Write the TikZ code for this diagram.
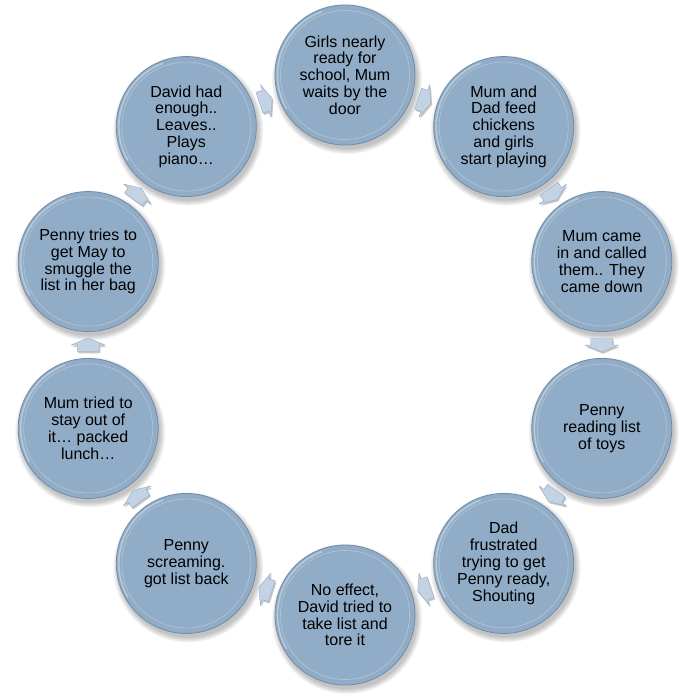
\documentclass[tikz,border=0pt]{standalone}
\usepackage{fontspec}
\setmainfont{Liberation Sans}
\usetikzlibrary{calc}
\definecolor{cfill}{RGB}{145,172,198}
\definecolor{cedge}{RGB}{112,140,168}
\definecolor{cinner}{RGB}{178,198,218}
\definecolor{afill}{RGB}{196,211,227}
\definecolor{aedge}{RGB}{150,170,192}
\begin{document}
\begin{tikzpicture}[x=1pt,y=-1pt]
\useasboundingbox (0,0) rectangle (685,697);
\tikzset{
  ball/.style={circle, minimum size=140pt, inner sep=0pt, fill=cfill, draw=cedge,
    line width=0.8pt, align=center, font=\fontsize{16}{16.8}\selectfont, text=black},
  blockarrow/.style={fill=afill, draw=aedge, line width=0.4pt, line join=round},
  arrowshadow/.style={fill=black, opacity=0.22, draw=none},
}
% soft shadows under the circles
\foreach \i in {1,...,10}{
  \pgfmathsetmacro\a{90-36*(\i-1)}
  \pgfmathsetmacro\xx{345+270*cos(\a)}
  \pgfmathsetmacro\yy{345-270*sin(\a)}
  \foreach \k in {5,4,3,2,1,0}{
    \fill[black, opacity=0.045] (\xx+2,\yy+4) circle (70+\k);
  }
}
% circles
\foreach \i/\t in {
  1/{Girls nearly\\ready for\\school, Mum\\waits by the\\door},
  2/{Mum and\\Dad feed\\chickens\\and girls\\start playing},
  3/{Mum came\\in and called\\them.. They\\came down},
  4/{Penny\\reading list\\of toys},
  5/{Dad\\frustrated\\trying to get\\Penny ready,\\Shouting},
  6/{No effect,\\David tried to\\take list and\\tore it},
  7/{Penny\\screaming.\\got list back},
  8/{Mum tried to\\stay out of\\it… packed\\lunch…},
  9/{Penny tries to\\get May to\\smuggle the\\list in her bag},
  10/{David had\\enough..\\Leaves..\\Plays\\piano…}}{
  \pgfmathsetmacro\a{90-36*(\i-1)}
  \pgfmathsetmacro\xx{345+270*cos(\a)}
  \pgfmathsetmacro\yy{345-270*sin(\a)}
  \node[ball] (c\i) at (\xx,\yy) {\t};
  \draw[cinner, line width=0.6pt] (c\i.center) circle (64.5);
  \draw[white, opacity=0.35, line width=1.6pt]
    ($(c\i.center)+(-110:67.5)$) arc[start angle=-110, end angle=-210, radius=67.5];
}
% block arrows between circles
\foreach \i/\j in {1/2,2/3,3/4,4/5,5/6,6/7,7/8,8/9,9/10,10/1}{
  \pgfmathsetmacro\d{90-36*(\i-1)-108}
  \begin{scope}[shift={($(c\i)!0.5!(c\j)$)}, shift={(1.2,1.8)}, rotate=\d]
    \path[arrowshadow] (-6.5,-11) -- (0,-11) -- (0,-17) -- (7,0) -- (0,17) -- (0,11) -- (-6.5,11) -- cycle;
  \end{scope}
  \begin{scope}[shift={($(c\i)!0.5!(c\j)$)}, rotate=\d]
    \path[blockarrow] (-6.5,-11) -- (0,-11) -- (0,-17) -- (7,0) -- (0,17) -- (0,11) -- (-6.5,11) -- cycle;
  \end{scope}
}
\end{tikzpicture}
\end{document}
